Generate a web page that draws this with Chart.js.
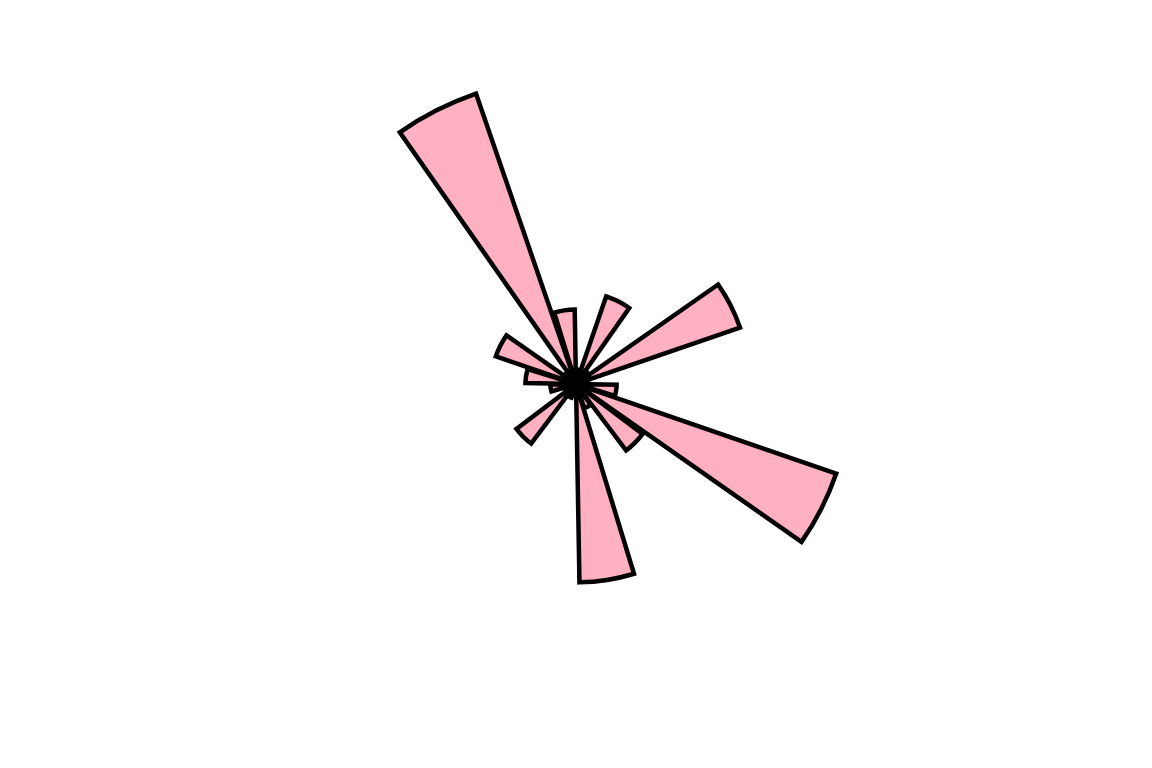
<!DOCTYPE html>
<html>
<head>
<meta charset="utf-8">
<script src="https://cdn.jsdelivr.net/npm/chart.js@4/dist/chart.umd.min.js"></script>
<style>
  html, body { margin: 0; padding: 0; background: #fff; }
  #wrap { width: 1152px; height: 768px; }
</style>
</head>
<body>
<div id="wrap"><canvas id="rose" width="1152" height="768"></canvas></div>
<script>
// 20 secteurs, sens horaire a partir du haut (centres a 81, 63, 45 ... degres)
const sectors = [
  'S81', 'S63', 'S45', 'S27', 'S9', 'S351', 'S333', 'S315', 'S297', 'S279',
  'S261', 'S243', 'S225', 'S207', 'S189', 'S171', 'S153', 'S135', 'S117', 'S99'
];
const radii = [
  0.45, 2.9, 0.5, 5.42, 0.35, 1.27, 8.6, 2.6, 0.8, 6.2,
  0.35, 0.45, 2.33, 0.35, 0.8, 1.58, 2.65, 0.45, 9.6, 2.33
];
const rMax = 12;

// chaque secteur = barre de 16 graus + espaco vazio de 2 graus
const labels = [];
const values = [];
sectors.forEach((s, i) => {
  labels.push(s);
  values.push(radii[i]);
  labels.push(s + '_gap');
  values.push(0);
});

const ctx = document.getElementById('rose').getContext('2d');
new Chart(ctx, {
  type: 'polarArea',
  data: {
    labels: labels,
    datasets: [{
      data: values,
      backgroundColor: '#ffb0c1',
      borderColor: '#000000',
      borderWidth: c => (c.index % 2 === 0 ? 4.5 : 0),
      borderJoinStyle: 'miter',
      angle: c => (c.index % 2 === 0 ? 16 : 2)
    }]
  },
  options: {
    responsive: false,
    animation: false,
    events: [],
    layout: { padding: 0 },
    plugins: {
      legend: { display: false },
      tooltip: { enabled: false }
    },
    scales: {
      r: {
        display: false,
        min: 0,
        max: rMax,
        startAngle: 1
      }
    }
  }
});
</script>
</body>
</html>
